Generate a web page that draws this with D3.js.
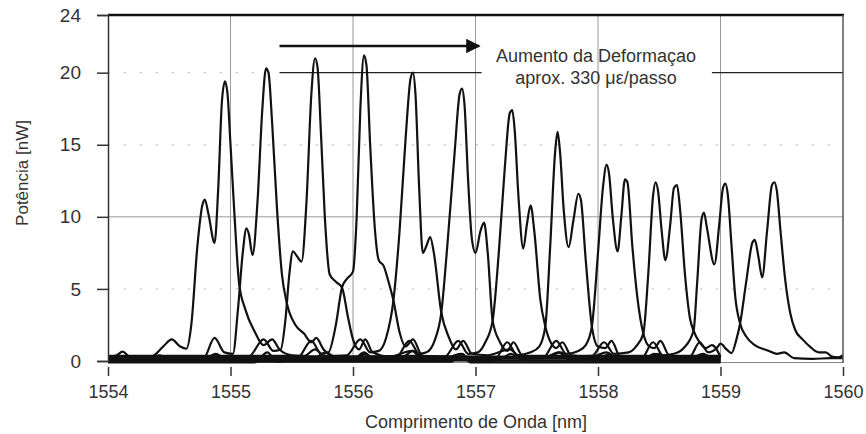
<!DOCTYPE html>
<html><head><meta charset="utf-8">
<script src="https://cdn.jsdelivr.net/npm/d3@7"></script>
<style>
body{margin:0;background:#fff;}
text{font-family:"Liberation Sans",Arial,sans-serif;fill:#333;}
</style></head>
<body><svg id="c" width="866" height="434"></svg>
<script>
// ---- data ----
const xTicks = [1554,1555,1556,1557,1558,1559,1560];
const yTicks = [0,5,10,15,20,24];
const xTitle = "Comprimento de Onda [nm]";
const yTitle = "Potência [nW]";
const note1 = "Aumento da Deformaçao";
const note2 = "aprox. 330 με/passo";

const s1 = [[1554.00,0.3],[1554.06,0.35],[1554.12,0.65],[1554.18,0.3],[1554.35,0.3],[1554.45,1.0],[1554.52,1.5],[1554.59,1.0],[1554.64,0.85],[1554.68,2.5],[1554.73,8.0],[1554.77,10.8],[1554.79,11.2],[1554.82,10.2],[1554.87,8.2],[1554.90,12],[1554.93,18],[1554.955,19.4],[1554.975,18.6],[1555.0,15],[1555.03,10.5],[1555.07,5.4],[1555.12,3.6],[1555.2,2.0],[1555.27,1.1],[1555.34,1.5],[1555.4,0.8],[1555.5,0.4],[1555.7,0.3],[1555.78,0.6],[1555.85,0.3],[1556.5,0.35],[1557.2,0.25],[1558.0,0.3],[1559,0.3]];
const s2 = [[1554.00,0.0],[1554.3,0.05],[1554.42,0.4],[1554.5,0.1],[1554.78,0.2],[1554.87,1.6],[1554.95,0.6],[1555.02,0.5],[1555.06,3.5],[1555.1,7.5],[1555.13,9.2],[1555.15,8.8],[1555.18,7.35],[1555.22,11],[1555.26,17.5],[1555.29,20.3],[1555.31,20.0],[1555.34,16.5],[1555.38,10.5],[1555.42,6.0],[1555.46,4.0],[1555.53,2.5],[1555.6,1.9],[1555.66,1.3],[1555.7,1.6],[1555.76,0.8],[1555.85,0.3],[1556.0,0.1],[1556.1,0.5],[1556.18,0.1],[1557.0,0.05],[1558.2,0.0],[1559,0.0]];
const s3 = [[1554.0,0.2],[1554.8,0.2],[1554.88,0.5],[1554.95,0.2],[1555.15,0.3],[1555.27,1.5],[1555.35,0.7],[1555.41,0.8],[1555.45,3.0],[1555.48,6.0],[1555.51,7.6],[1555.54,7.3],[1555.58,6.9],[1555.62,11],[1555.66,18.5],[1555.69,21.0],[1555.71,20.4],[1555.74,15.5],[1555.77,10],[1555.81,6.0],[1555.86,5.5],[1555.91,5.1],[1555.96,3.0],[1556.0,1.5],[1556.05,0.8],[1556.1,1.5],[1556.16,0.6],[1556.3,0.3],[1556.48,0.7],[1556.56,0.2],[1557.5,0.25],[1559,0.2]];
const s4 = [[1554,-0.1],[1555.2,-0.1],[1555.3,0.6],[1555.38,-0.05],[1555.55,0.2],[1555.66,1.4],[1555.74,0.5],[1555.8,0.6],[1555.86,2.5],[1555.91,5.1],[1555.95,5.7],[1556.0,6.2],[1556.03,10],[1556.06,17.5],[1556.09,21.2],[1556.11,20.5],[1556.14,15],[1556.18,9],[1556.21,7.0],[1556.25,6.6],[1556.29,5.5],[1556.33,4.2],[1556.38,2.0],[1556.43,1.0],[1556.49,1.5],[1556.56,0.4],[1556.7,0.0],[1556.88,0.5],[1556.96,-0.1],[1559,-0.1]];
const s5 = [[1554,0.35],[1555.6,0.35],[1555.69,0.8],[1555.77,0.35],[1555.95,0.4],[1556.06,1.5],[1556.14,0.6],[1556.21,0.7],[1556.27,1.6],[1556.33,4.2],[1556.38,9],[1556.43,15.5],[1556.47,19.6],[1556.49,20.0],[1556.51,18.5],[1556.54,12],[1556.57,7.5],[1556.6,8.0],[1556.63,8.6],[1556.66,7.5],[1556.72,3.4],[1556.78,1.7],[1556.84,0.8],[1556.9,1.4],[1556.97,0.5],[1557.1,0.4],[1557.28,0.8],[1557.36,0.35],[1559,0.35]];
const s6 = [[1554,0.1],[1556.0,0.1],[1556.09,0.6],[1556.17,0.1],[1556.35,0.2],[1556.46,1.4],[1556.54,0.5],[1556.6,0.6],[1556.67,1.5],[1556.72,3.3],[1556.77,8],[1556.83,14.5],[1556.87,18.5],[1556.89,18.9],[1556.91,17.8],[1556.94,12.5],[1556.97,8.5],[1557.0,7.5],[1557.04,9.0],[1557.07,9.6],[1557.1,7.5],[1557.14,2.8],[1557.2,1.3],[1557.26,0.7],[1557.31,1.3],[1557.38,0.4],[1557.55,0.2],[1557.68,0.6],[1557.76,0.1],[1559,0.1]];
const s7 = [[1554,0.25],[1556.4,0.25],[1556.49,0.7],[1556.57,0.25],[1556.75,0.3],[1556.86,1.4],[1556.94,0.5],[1557.02,0.6],[1557.08,1.3],[1557.14,2.8],[1557.19,7.5],[1557.24,13.5],[1557.28,17.2],[1557.30,17.4],[1557.32,16],[1557.35,11.5],[1557.39,7.8],[1557.42,9.5],[1557.45,10.8],[1557.48,9],[1557.53,4.2],[1557.57,2.4],[1557.62,1.2],[1557.66,0.9],[1557.71,1.3],[1557.78,0.4],[1557.95,0.3],[1558.07,0.6],[1558.15,0.25],[1559,0.25]];
const s8 = [[1554,-0.05],[1556.8,-0.05],[1556.89,0.5],[1556.97,-0.05],[1557.15,0.0],[1557.26,1.3],[1557.34,0.4],[1557.45,0.6],[1557.52,1.0],[1557.57,2.4],[1557.61,8],[1557.65,14.5],[1557.67,15.9],[1557.69,14.5],[1557.72,10.5],[1557.76,7.9],[1557.8,9.8],[1557.84,11.6],[1557.86,11.2],[1557.9,7],[1557.95,2.4],[1558.0,1.0],[1558.06,0.9],[1558.11,1.4],[1558.18,0.3],[1558.35,0.0],[1558.46,0.5],[1558.54,-0.05],[1559,-0.05]];
const s9 = [[1554,0.15],[1557.2,0.15],[1557.29,0.5],[1557.37,0.15],[1557.55,0.2],[1557.66,1.4],[1557.74,0.5],[1557.84,0.7],[1557.9,1.1],[1557.95,2.4],[1558.0,7.5],[1558.04,12],[1558.07,13.6],[1558.09,13],[1558.12,10],[1558.16,7.6],[1558.19,10],[1558.22,12.6],[1558.24,12.4],[1558.28,8],[1558.32,4.5],[1558.37,1.9],[1558.42,1.0],[1558.46,0.9],[1558.51,1.4],[1558.58,0.4],[1558.75,0.2],[1558.86,0.5],[1558.94,0.15],[1559,0.15]];
const s10 = [[1554,0.3],[1557.6,0.3],[1557.69,0.6],[1557.77,0.3],[1557.95,0.35],[1558.05,1.3],[1558.13,0.5],[1558.25,0.6],[1558.31,1.0],[1558.37,1.9],[1558.41,6],[1558.45,11.5],[1558.47,12.4],[1558.49,11.8],[1558.52,9],[1558.55,7.0],[1558.59,9.5],[1558.62,12],[1558.645,12.2],[1558.67,10.5],[1558.71,6],[1558.75,3],[1558.78,2.1],[1558.83,1.3],[1558.88,0.9],[1558.93,1.1],[1559.0,0.3]];
const s11 = [[1554,0.05],[1558.0,0.05],[1558.09,0.5],[1558.17,0.05],[1558.35,0.1],[1558.45,1.3],[1558.53,0.4],[1558.62,0.5],[1558.7,0.9],[1558.78,2.1],[1558.81,5.5],[1558.845,9.8],[1558.865,10.3],[1558.89,9.2],[1558.95,6.7],[1558.99,9.5],[1559.02,12],[1559.04,12.3],[1559.06,11.5],[1559.09,8],[1559.12,4.5],[1559.16,2.6],[1559.21,1.7],[1559.28,1.1],[1559.38,0.75],[1559.46,0.5],[1559.52,0.6],[1559.6,0.2],[1559.75,0.15],[1559.9,0.2],[1560,0.2]];
const s12 = [[1554,0.2],[1558.4,0.2],[1558.49,0.5],[1558.57,0.2],[1558.75,0.3],[1558.83,1.3],[1558.9,0.6],[1558.97,0.9],[1559.0,1.2],[1559.05,0.8],[1559.09,0.55],[1559.13,1.5],[1559.16,2.6],[1559.21,5.5],[1559.26,8.2],[1559.28,8.4],[1559.31,7.2],[1559.34,5.8],[1559.38,9],[1559.42,12.2],[1559.44,12.4],[1559.46,11.8],[1559.49,9],[1559.53,5.5],[1559.57,3.3],[1559.61,2.15],[1559.67,1.5],[1559.73,1.0],[1559.8,0.6],[1559.86,0.6],[1559.91,0.3],[1559.96,0.25],[1560,0.4]];
const spectra = [s1,s2,s3,s4,s5,s6,s7,s8,s9,s10,s11,s12];

// ---- drawing ----
const svg = d3.select("#c");
const x = d3.scaleLinear().domain([1554,1560]).range([108,843]);
const y = d3.scaleLinear().domain([0,24]).range([361,15]);

// grid
const grid = svg.append("g");
grid.selectAll("line.v").data(xTicks.slice(1,-1)).join("line")
  .attr("x1",d=>x(d)).attr("x2",d=>x(d)).attr("y1",y(24)).attr("y2",y(0))
  .attr("stroke","#999").attr("stroke-width",1);
grid.append("line").attr("x1",x(1554)).attr("x2",x(1560)).attr("y1",y(10)).attr("y2",y(10))
  .attr("stroke","#999").attr("stroke-width",1);
grid.selectAll("line.h").data([5,15]).join("line")
  .attr("x1",x(1554)).attr("x2",x(1560)).attr("y1",d=>y(d)).attr("y2",d=>y(d))
  .attr("stroke","#bbb").attr("stroke-width",1).attr("stroke-dasharray","2,14");
grid.append("line").attr("x1",x(1554)).attr("x2",x(1555.4)).attr("y1",y(20)).attr("y2",y(20))
  .attr("stroke","#bbb").attr("stroke-width",1).attr("stroke-dasharray","2,14");
// annotation bracket lines at 20
grid.append("line").attr("x1",x(1555.4)).attr("x2",x(1557.05)).attr("y1",y(20)).attr("y2",y(20))
  .attr("stroke","#222").attr("stroke-width",1.3);
grid.append("line").attr("x1",x(1558.93)).attr("x2",x(1560)).attr("y1",y(20)).attr("y2",y(20))
  .attr("stroke","#222").attr("stroke-width",1.3);
// bottom baseline
grid.append("line").attr("x1",x(1554)).attr("x2",x(1560)).attr("y1",y(0)+1.5).attr("y2",y(0)+1.5)
  .attr("stroke","#888").attr("stroke-width",1.2);

// spectra
const line = d3.line().x(d=>x(d[0])).y(d=>y(d[1])).curve(d3.curveMonotoneX);
svg.append("g").selectAll("path").data(spectra).join("path")
  .attr("d",line).attr("fill","none").attr("stroke","#111")
  .attr("stroke-width",2.2).attr("stroke-linejoin","round");

// frame
svg.append("line").attr("x1",x(1554)).attr("x2",x(1560)+1).attr("y1",y(24)).attr("y2",y(24))
  .attr("stroke","#111").attr("stroke-width",2.6);
svg.append("line").attr("x1",x(1560)).attr("x2",x(1560)).attr("y1",y(24)).attr("y2",y(0)+2)
  .attr("stroke","#555").attr("stroke-width",1.5);

// y axis
const yAxis = svg.append("g").attr("transform",`translate(${x(1554)},0)`)
  .call(d3.axisLeft(y).tickValues(yTicks).tickSize(11).tickPadding(16).tickFormat(d3.format("d")));
yAxis.select(".domain").attr("stroke","#333").attr("stroke-width",1.5);
yAxis.selectAll(".tick line").attr("stroke","#333").attr("stroke-width",1.5);
yAxis.selectAll(".tick text").attr("font-size",19).attr("fill","#333").attr("font-family","Liberation Sans, Arial, sans-serif");

// x axis
const xAxis = svg.append("g").attr("transform",`translate(0,${y(0)+6})`)
  .call(d3.axisBottom(x).tickValues(xTicks).tickSize(9).tickPadding(9).tickFormat(d3.format("d")));
xAxis.select(".domain").remove();
xAxis.selectAll(".tick line").attr("stroke","#333").attr("stroke-width",1.5);
xAxis.selectAll(".tick text").attr("font-size",18).attr("fill","#333").attr("font-family","Liberation Sans, Arial, sans-serif");

// titles
svg.append("text").attr("x",476).attr("y",428).attr("text-anchor","middle")
  .attr("font-size",18).text(xTitle);
svg.append("text").attr("transform","translate(28,173) rotate(-90)").attr("text-anchor","middle")
  .attr("font-size",17).text(yTitle);

// annotation arrow + text
svg.append("defs").append("marker").attr("id","ah").attr("viewBox","0 0 10 10")
  .attr("refX",9).attr("refY",5).attr("markerWidth",8).attr("markerHeight",6)
  .attr("markerUnits","strokeWidth").attr("orient","auto")
  .append("path").attr("d","M0,0L10,5L0,10Z").attr("fill","#111");
svg.append("line").attr("x1",x(1555.4)).attr("x2",x(1557.03)).attr("y1",46).attr("y2",46)
  .attr("stroke","#111").attr("stroke-width",2.4).attr("marker-end","url(#ah)");
svg.append("text").attr("x",596).attr("y",62).attr("text-anchor","middle")
  .attr("font-size",18).text(note1);
svg.append("text").attr("x",596).attr("y",84).attr("text-anchor","middle")
  .attr("font-size",18).text(note2);
</script></body></html>
